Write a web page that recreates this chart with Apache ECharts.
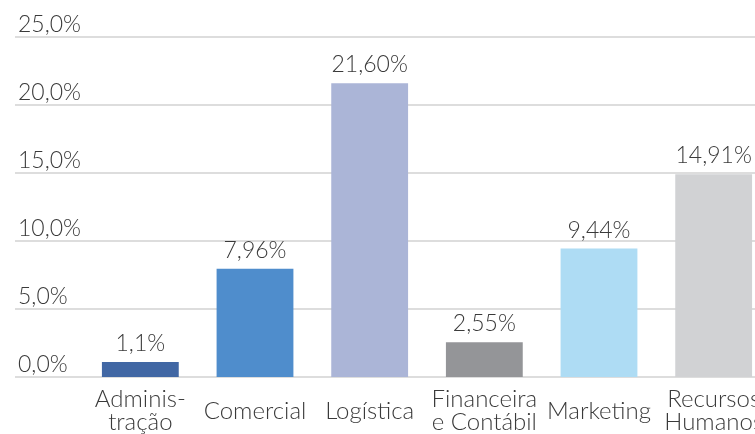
<!DOCTYPE html>
<html>
<head>
<meta charset="utf-8">
<script src="https://cdn.jsdelivr.net/npm/echarts@6/dist/echarts.min.js"></script>
<style>
  html, body { margin: 0; padding: 0; background: #fff; }
  #chart { width: 755px; height: 434px; }
</style>
</head>
<body>
<div id="chart"></div>
<script>
const categories = ['Adminis-\ntração', 'Comercial', 'Logística', 'Financeira\ne Contábil', 'Marketing', 'Recursos\nHumanos']
const values = [1.1, 7.96, 21.6, 2.55, 9.44, 14.91]
const valueLabels = ['1,1%', '7,96%', '21,60%', '2,55%', '9,44%', '14,91%']
const colors = ['#4167a4', '#4f8dcc', '#abb5d7', '#949598', '#aedcf4', '#d1d2d4']

const FONT = 'Lato'
const TEXT = '#3a3a3a'

const chart = echarts.init(document.getElementById('chart'))

chart.setOption({
  animation: false,
  grid: [
    // background grid: gridlines + value labels across the full width
    { left: 15, right: 0, top: 37, bottom: 57, outerBoundsMode: 'none' },
    // bars; the last category runs past the right edge
    { left: 83, right: -16, top: 37, bottom: 57, outerBoundsMode: 'none' }
  ],
  xAxis: [
    { gridIndex: 0, type: 'category', show: false, data: categories },
    {
      gridIndex: 1,
      type: 'category',
      data: categories,
      axisLine: { show: false },
      axisTick: { show: false },
      axisLabel: {
        margin: 34,
        verticalAlign: 'middle',
        interval: 0,
        fontFamily: FONT,
        fontWeight: 300,
        fontSize: 24,
        lineHeight: 23,
        color: TEXT
      }
    }
  ],
  yAxis: [
    {
      gridIndex: 0,
      type: 'value',
      min: 0,
      max: 25,
      interval: 5,
      axisLine: { show: false },
      axisTick: { show: false },
      splitLine: { lineStyle: { color: '#d2d2d2', width: 1.5 } },
      axisLabel: {
        inside: true,
        margin: 3,
        align: 'left',
        verticalAlign: 'bottom',
        padding: [0, 0, 1, 0],
        fontFamily: FONT,
        fontWeight: 300,
        fontSize: 23,
        color: TEXT,
        formatter: v => v.toFixed(1).replace('.', ',') + '%'
      }
    },
    { gridIndex: 1, type: 'value', min: 0, max: 25, interval: 5, show: false, splitLine: { show: false } }
  ],
  series: [{
    type: 'bar',
    xAxisIndex: 1,
    yAxisIndex: 1,
    barCategoryGap: '33%',
    data: values.map((v, i) => ({ value: v, itemStyle: { color: colors[i] } })),
    label: {
      show: true,
      position: 'top',
      distance: 7,
      fontFamily: FONT,
      fontWeight: 300,
      fontSize: 23,
      color: TEXT,
      formatter: p => valueLabels[p.dataIndex]
    }
  }]
})
</script>
</body>
</html>
